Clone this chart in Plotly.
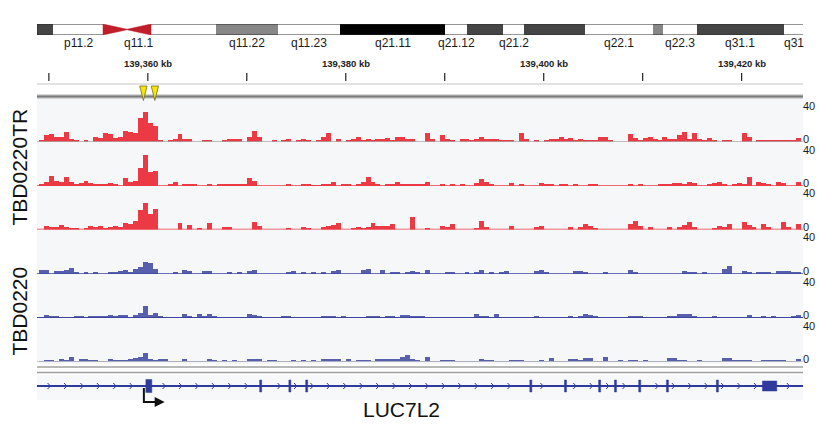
import plotly.graph_objects as go

# ---------------- data ----------------
view_kb = [139348.8, 139426.2]          # visible genomic window (kb)
bin_start_kb = 139349.0                  # first coverage bin start (kb)
bin_kb = 0.5                             # coverage bin width (kb)

track_labels = ["TBD0220TR", "TBD0220"]
track_max = 40                           # data range of each coverage track

tbd0220tr_rep1 = [
    2, 6, 7, 5, 5, 9, 3, 2, 0, 2,
    0, 5, 4, 8, 7, 4, 5, 10, 9, 8,
    22, 27, 17, 15, 1, 0, 2, 3, 7, 3,
    3, 0, 0, 1.5, 1.5, 0, 0, 2, 3, 3,
    3, 0, 5, 10, 5, 0, 0, 2, 0, 2,
    3, 0, 2, 3, 2, 0, 2, 5, 8, 0,
    3, 0, 2, 3, 5, 2, 3, 2, 3, 3,
    4, 2, 5, 5, 3, 3, 0, 0, 8, 3,
    0, 6, 3, 2, 0, 3, 3, 2, 3, 5,
    3, 3, 3, 1, 1, 1, 0, 8, 3, 0,
    1, 0, 2, 3, 3, 5, 3, 4, 2, 3,
    1, 2, 2, 5, 5, 1, 0, 0, 0, 7,
    4, 1, 4, 5, 3, 1, 5, 3, 3, 6,
    9, 3, 8, 3, 1, 4, 1, 0, 1, 1,
    0, 0, 8, 5, 0, 2, 1, 1, 2, 2,
    2, 2, 2, 4]
tbd0220tr_rep2 = [
    1.5, 4, 9, 5, 4, 8, 4, 2, 3, 5,
    3, 1, 1, 1, 3, 1.5, 0, 7, 4, 5,
    16, 28, 13, 14, 0, 0, 2, 4, 0, 1.5,
    2, 1, 0, 0, 1.5, 0, 1, 1, 2, 2,
    1, 1, 7, 5, 0, 0, 0, 0, 0, 0,
    1, 0, 0, 2, 1, 0.5, 0.5, 1.5, 1.5, 4,
    0, 2, 1, 0, 1.5, 4, 8, 4, 1, 0,
    2, 2, 4, 2, 1.5, 1.5, 2, 1.5, 4, 0,
    0, 1.5, 0, 1.5, 0, 1.5, 0, 0, 3, 6,
    4, 2, 0, 0, 0, 3, 0, 1, 0, 0,
    0, 3, 1.5, 1.5, 0, 2, 1.5, 0, 2, 0,
    0, 2, 2, 0, 0, 0, 0, 0, 0, 1,
    0, 1, 0, 0, 0, 1, 1, 1, 2.5, 2.5,
    2, 4, 2.5, 0, 0, 1, 2.5, 4, 2, 0,
    2, 2.5, 1.5, 8, 0, 4, 2.5, 2, 0, 4,
    2.5, 0, 0, 4]
tbd0220tr_rep3 = [
    0, 4, 2.5, 3, 5, 2.5, 1.5, 1.5, 0, 1.5,
    4, 3, 4, 2, 2.5, 4, 2.5, 6, 5.5, 8.5,
    18, 25, 15, 19, 0, 0, 0, 0, 6, 0,
    5, 0, 1.5, 0, 6, 0, 0, 3, 3, 0,
    0, 0, 0, 7, 4, 0, 0, 0, 0, 0,
    1.5, 0, 0, 2.5, 2, 0, 0, 2.5, 4, 5,
    6, 0, 0, 1.5, 3, 1.5, 2.5, 6, 4, 4,
    4, 5.5, 0, 0, 0, 12, 0, 0, 1.5, 0,
    0, 4, 2.5, 5.5, 0, 0, 0, 0, 1.5, 8,
    2.5, 0, 0, 0, 0, 4, 0, 0, 0, 0,
    3, 4, 0, 0, 0, 0, 0, 2.5, 0, 2.5,
    5.5, 4, 1, 0, 0, 0, 0, 0, 0, 5.5,
    8.5, 4, 0, 2.5, 0, 0, 0, 2.5, 0, 2.5,
    4.5, 7, 2.5, 0, 0, 0, 1, 4, 3, 5.5,
    0, 0, 7.5, 4.5, 2.5, 0, 5.5, 2.5, 0, 0,
    7.5, 3, 0, 5.5]
tbd0220_rep1 = [
    3.3, 3.3, 0, 2.5, 2.5, 4, 5.5, 1, 0, 1,
    0, 1, 0, 0, 1, 2, 2.5, 3.3, 1, 5,
    6, 11, 10, 5, 0, 0, 0, 1, 0, 4,
    2.5, 0, 0, 2.5, 2.5, 0, 0, 0, 1, 0,
    1, 0, 2.5, 3.3, 0, 0, 0, 0, 0, 0,
    1, 2.5, 0, 1, 0, 1, 0, 1, 0, 2.5,
    3.3, 0, 0, 0, 0, 3.3, 5, 0, 0, 3.3,
    0, 1, 1, 0, 2, 2.5, 2, 0, 3.3, 0,
    0, 0, 1, 1, 0, 0, 1, 0, 2, 3.3,
    0, 1, 0, 1, 2.5, 0, 0, 0, 0, 0,
    2.5, 3.3, 1, 0, 0, 0, 0, 0, 2.5, 2.5,
    1.5, 0, 0, 0, 1, 0, 0, 0, 0, 4,
    1.5, 0, 0, 0, 0, 0, 0, 0, 0, 0,
    3, 2, 2, 0, 1.5, 0, 0, 0, 4.5, 7.5,
    0, 0, 2.5, 1.5, 0, 1.5, 2, 1.5, 0, 2.5,
    3, 2.5, 1.5, 1.5]
tbd0220_rep2 = [
    0.5, 2.5, 2, 1, 0.5, 0.5, 0.5, 1, 1, 0.5,
    1, 1, 1, 2, 3, 2, 2.5, 3, 0.5, 2.5,
    5, 11, 2.5, 4.5, 1, 0.5, 0.5, 0.5, 0.5, 4,
    2, 0.5, 4, 2, 4, 1, 0.5, 0.5, 0.5, 0.5,
    0.5, 0.5, 4, 2.5, 1, 0.5, 0.5, 0.5, 0.5, 2,
    1, 0.5, 0.5, 0.5, 0.5, 0.5, 0.5, 1.5, 2, 1,
    0.5, 1.5, 0.5, 0.5, 0.5, 0.5, 1, 2, 1.5, 0.5,
    1.5, 1.5, 0.5, 2.5, 2.5, 2, 1.5, 1.5, 0.5, 0.5,
    0.5, 0.5, 0.5, 0.5, 0.5, 0.5, 0.5, 0.5, 3.5, 1.5,
    1.5, 0.5, 3.5, 0.5, 0.5, 0.5, 0.5, 0.5, 0.5, 0.5,
    1, 0.5, 0.5, 0.5, 0.5, 0.5, 0.5, 2, 0.5, 2,
    3.5, 2.5, 2, 0.5, 0.5, 0.5, 0.5, 0.5, 0.5, 2,
    1.5, 2, 0.5, 0.5, 0.5, 0.5, 0.5, 2, 2, 3.5,
    4, 3.5, 1.5, 0.5, 0.5, 0.5, 1.5, 0.5, 0.5, 0.5,
    0.5, 0.5, 0.5, 2.5, 0.5, 0.5, 1.5, 0.5, 1.5, 0.5,
    0.5, 0.5, 1.5, 2.5]
tbd0220_rep3 = [
    0.5, 1.5, 2, 0.5, 3, 1.5, 4.5, 0.5, 3, 3,
    1.5, 1.5, 0.5, 0.5, 3, 1.5, 1.5, 2, 3, 3.5,
    5, 8.5, 3, 2, 3, 3, 0.5, 0.5, 0.5, 2.5,
    0.5, 0.5, 0.5, 0.5, 2.5, 1.5, 0.5, 1.5, 0.5, 2,
    0.5, 0.5, 3, 3, 3, 0.5, 2, 1.5, 0.5, 0.5,
    0.5, 1.5, 0.5, 2, 0.5, 1.5, 0.5, 2.5, 3, 3,
    3, 0.5, 2.5, 0.5, 1.5, 1.5, 1.5, 0.5, 3, 3,
    3, 3, 3, 4.5, 6, 2.5, 1.5, 0.5, 4.5, 0.5,
    0.5, 2, 1.5, 1.5, 0.5, 0.5, 0.5, 0.5, 0.5, 3,
    2, 1.5, 0.5, 0.5, 0.5, 2, 1.5, 1.5, 0.5, 0.5,
    0.5, 2, 0.5, 3.5, 0.5, 0.5, 0.5, 2.5, 2.5, 2,
    4, 4, 0.5, 0.5, 5, 0.5, 0.5, 1, 0.5, 2,
    2, 0.5, 2, 0.5, 0.5, 0.5, 0.5, 3.5, 3.5, 2,
    2, 0.5, 0.5, 1, 0.5, 0.5, 0.5, 0.5, 4, 4,
    2, 2, 1.5, 1.5, 0.5, 0.5, 2, 2, 2, 2,
    1, 0.5, 0.5, 2.5]

ruler_ticks_kb = [139350, 139360, 139370, 139380, 139390, 139400, 139410, 139420]
ruler_label_kb = [139360, 139380, 139400, 139420]
ruler_labels = ["139,360 kb", "139,380 kb", "139,400 kb", "139,420 kb"]

marker_kb = [139359.55, 139360.71]       # yellow region markers

# ideogram (positions in % of the displayed ideogram width)
band_starts = [0, 2.09, 8.62, 11.75, 14.88, 23.37, 31.46, 39.56, 53.26,
               56.14, 60.84, 63.58, 71.54, 80.42, 81.72, 86.16, 97.52]
band_ends = band_starts[1:] + [100]
band_stains = ["gpos75", "gneg", "acen_p", "acen_q", "gneg", "gpos50", "gneg",
               "gpos100", "gneg", "gpos75", "gneg", "gpos75", "gneg", "gpos50",
               "gneg", "gpos75", "gneg"]
band_labels = ["", "p11.2", "", "q11.1", "", "q11.22", "q11.23", "q21.11",
               "q21.12", "", "q21.2", "", "q22.1", "", "q22.3", "q31.1", "q31"]

# gene LUC7L2 (kb)
gene_name = "LUC7L2"
gene_span_kb = [139340.0, 139430.0]
exon_starts_kb = [139359.8, 139371.3, 139374.25, 139375.95, 139398.6, 139402.1,
                  139405.55, 139407.15, 139409.6, 139412.4, 139417.45, 139422.1]
exon_ends_kb = [139360.4, 139371.5, 139374.45, 139376.15, 139398.8, 139402.3,
                139405.75, 139407.35, 139409.8, 139412.6, 139417.65, 139423.55]
exon_half_h = [0.65, 0.6, 0.6, 0.6, 0.6, 0.6, 0.6, 0.6, 0.6, 0.6, 0.6, 0.5]
tss_kb = 139359.6

# ---------------- styling / layout helpers ----------------
W, H = 820, 429
PX_L, PX_R = 37, 803
def px(v): return v / W
def py(v): return 1 - v / H

FONT = "Arial, Liberation Sans, sans-serif"
RED, BLUE = "#ec3a44", "#5860ae"
GENE_BLUE = "#2f3a9c"

track_values = [tbd0220tr_rep1, tbd0220tr_rep2, tbd0220tr_rep3,
                tbd0220_rep1, tbd0220_rep2, tbd0220_rep3]
track_colors = [RED, RED, RED, BLUE, BLUE, BLUE]
baseline_colors = ["#a8a8a8", RED, RED, "#3c44a2", "#3c44a2", "#c8c8cc"]
baseline_widths = [1.5, 1.5, 1.5, 1.5, 2, 1.5]
track_base_px = [142, 186, 229.5, 274, 318, 362]
TRACK_H = 44

xdom = [px(PX_L), px(PX_R)]
fig = go.Figure()
layout = dict(
    width=W, height=H, margin=dict(l=0, r=0, t=0, b=0),
    paper_bgcolor="white", plot_bgcolor="rgba(0,0,0,0)",
    showlegend=False, barmode="overlay", bargap=0,
    font=dict(family=FONT, color="#111"),
    xaxis=dict(domain=xdom, range=view_kb, visible=False, fixedrange=True),
)
shapes, annotations = [], []

# backgrounds
shapes.append(dict(type="rect", xref="paper", yref="paper", x0=xdom[0], x1=xdom[1],
                   y0=py(364), y1=py(98), fillcolor="#f6f7f9", line_width=0, layer="below"))
shapes.append(dict(type="rect", xref="paper", yref="paper", x0=xdom[0], x1=xdom[1],
                   y0=py(400), y1=py(375), fillcolor="#f7f8fa", line_width=0, layer="below"))

centers = [bin_start_kb + bin_kb * (i + 0.5) for i in range(len(tbd0220tr_rep1))]
for k, vals in enumerate(track_values):
    yname = "yaxis" if k == 0 else f"yaxis{k+1}"
    yref = "y" if k == 0 else f"y{k+1}"
    b = track_base_px[k]
    layout[yname] = dict(domain=[py(b), py(b - TRACK_H)], range=[0, track_max],
                         visible=False, anchor="x", fixedrange=True)
    fig.add_trace(go.Bar(x=centers, y=vals, width=bin_kb, xaxis="x", yaxis=yref,
                         marker=dict(color=track_colors[k], line=dict(width=0)),
                         hoverinfo="skip"))
    shapes.append(dict(type="line", xref="paper", yref=yref, x0=xdom[0], x1=xdom[1],
                       y0=0, y1=0, line=dict(color=baseline_colors[k], width=baseline_widths[k])))
    annotations.append(dict(text=str(track_max), x=px(801), y=py(b - 36.5), xref="paper", yref="paper",
                            xanchor="left", yanchor="middle", showarrow=False,
                            font=dict(size=11, color="#1a1a1a", family=FONT)))
    annotations.append(dict(text="0", x=px(801), y=py(b - 3), xref="paper", yref="paper",
                            xanchor="left", yanchor="middle", showarrow=False,
                            font=dict(size=11, color="#1a1a1a", family=FONT)))

# ---------------- ideogram ----------------
layout["xaxis2"] = dict(domain=xdom, range=[0, 100], visible=False, anchor="y7", fixedrange=True)
layout["yaxis7"] = dict(domain=[py(35), py(24)], range=[0, 1], visible=False, anchor="x2", fixedrange=True)
stain_color = {"gneg": "#ffffff", "gpos50": "#878787", "gpos75": "#454545",
               "gpos100": "#000000", "acen_p": "rgba(0,0,0,0)", "acen_q": "rgba(0,0,0,0)"}
fig.add_trace(go.Bar(
    base=band_starts, x=[e - s for s, e in zip(band_starts, band_ends)],
    y=[0.5] * len(band_starts), width=1.0, orientation="h",
    marker=dict(color=[stain_color[s] for s in band_stains], line=dict(width=0)),
    xaxis="x2", yaxis="y7", hoverinfo="skip"))
ACEN = "#bf1e2a"
for s, e, st in zip(band_starts, band_ends, band_stains):
    if st == "acen_p":
        shapes.append(dict(type="path", xref="x2", yref="y7",
                           path=f"M {s},0 L {s},1 L {e},0.52 L {e},0.48 Z",
                           fillcolor=ACEN, line=dict(color=ACEN, width=0.5)))
    elif st == "acen_q":
        shapes.append(dict(type="path", xref="x2", yref="y7",
                           path=f"M {e},0 L {e},1 L {s},0.52 L {s},0.48 Z",
                           fillcolor=ACEN, line=dict(color=ACEN, width=0.5)))
acen_lo = min(s for s, st in zip(band_starts, band_stains) if st.startswith("acen"))
acen_hi = max(e for e, st in zip(band_ends, band_stains) if st.startswith("acen"))
for (a, b_) in [(band_starts[0], acen_lo), (acen_hi, band_ends[-1])]:
    for yy in (0, 1):
        shapes.append(dict(type="line", xref="x2", yref="y7", x0=a, x1=b_, y0=yy, y1=yy,
                           line=dict(color="#2a2a2a", width=1)))
shapes.append(dict(type="line", xref="x2", yref="y7", x0=band_starts[0], x1=band_starts[0],
                   y0=0, y1=1, line=dict(color="#2a2a2a", width=1)))
for s, e, lab in zip(band_starts, band_ends, band_labels):
    if lab:
        annotations.append(dict(text=lab, x=(s + e) / 2, y=py(43.5), xref="x2", yref="paper",
                                xanchor="center", yanchor="middle", showarrow=False,
                                font=dict(size=12, color="#1a1a1a", family=FONT)))

# ---------------- ruler ----------------
for t in ruler_ticks_kb:
    shapes.append(dict(type="line", xref="x", yref="paper", x0=t, x1=t, y0=py(81), y1=py(73),
                       line=dict(color="#222", width=1.2)))
for t, lab in zip(ruler_label_kb, ruler_labels):
    annotations.append(dict(text=f"<b>{lab}</b>", x=t, y=py(63.5), xref="x", yref="paper",
                            xanchor="center", yanchor="middle", showarrow=False,
                            font=dict(size=9.5, color="#222", family=FONT)))
shapes.append(dict(type="line", xref="paper", yref="paper", x0=xdom[0], x1=xdom[1],
                   y0=py(84), y1=py(84), line=dict(color="#c4c4c4", width=1)))
shapes.append(dict(type="rect", xref="paper", yref="paper", x0=xdom[0], x1=xdom[1],
                   y0=py(98.5), y1=py(94.5), fillcolor="#b0b0b0", line_width=0))
shapes.append(dict(type="line", xref="paper", yref="paper", x0=xdom[0], x1=xdom[1],
                   y0=py(96.5), y1=py(96.5), line=dict(color="#7a7a7a", width=1.5)))
for m in marker_kb:
    shapes.append(dict(type="path", xref="x", yref="paper",
                       path=f"M {m-0.37},{py(86)} L {m+0.37},{py(86)} L {m},{py(100.5)} Z",
                       fillcolor="#f6e800", line=dict(color="#6d6a2a", width=0.8)))

# separator lines under the coverage tracks
for yy in (367, 372.5):
    shapes.append(dict(type="line", xref="paper", yref="paper", x0=xdom[0], x1=xdom[1],
                       y0=py(yy), y1=py(yy), line=dict(color="#a0a0a0", width=1.3)))

# ---------------- gene track ----------------
layout["yaxis8"] = dict(domain=[py(398), py(374)], range=[-1.2, 1.2], visible=False,
                        anchor="x", fixedrange=True)
fig.add_trace(go.Scatter(x=gene_span_kb, y=[0, 0], mode="lines", xaxis="x", yaxis="y8",
                         line=dict(color=GENE_BLUE, width=1.8), hoverinfo="skip"))
# strand chevrons
chev_step = 1.66
cx, cy = [], []
c = view_kb[0] + 1.35
while c < view_kb[1] - 0.3:
    if all(not (s - 0.55 < c < e + 0.55) for s, e in zip(exon_starts_kb, exon_ends_kb)):
        cx += [c - 0.28, c, c - 0.28, None]
        cy += [0.3, 0, -0.3, None]
    c += chev_step
fig.add_trace(go.Scatter(x=cx, y=cy, mode="lines", xaxis="x", yaxis="y8",
                         line=dict(color=GENE_BLUE, width=1), hoverinfo="skip"))
for s, e, hh in zip(exon_starts_kb, exon_ends_kb, exon_half_h):
    shapes.append(dict(type="rect", xref="x", yref="y8", x0=s, x1=e, y0=-hh, y1=hh,
                       fillcolor=GENE_BLUE, line=dict(color=GENE_BLUE, width=0.5)))
# TSS bent arrow
shapes.append(dict(type="path", xref="x", yref="paper",
                   path=f"M {tss_kb},{py(388)} L {tss_kb},{py(402)} L {tss_kb+1.4},{py(402)}",
                   line=dict(color="#111", width=2)))
annotations.append(dict(text="", x=tss_kb + 2.1, y=py(402), xref="x", yref="paper",
                        ax=-9, ay=0, showarrow=True, arrowhead=2, arrowsize=1,
                        arrowwidth=2, arrowcolor="#111"))
annotations.append(dict(text=gene_name, x=px(401), y=py(409.5), xref="paper", yref="paper",
                        xanchor="center", yanchor="middle", showarrow=False,
                        font=dict(size=21, color="#111", family=FONT)))

# ---------------- group labels ----------------
annotations.append(dict(text=track_labels[0], x=px(18.5), y=py(167), xref="paper", yref="paper",
                        textangle=-90, xanchor="center", yanchor="middle", showarrow=False,
                        font=dict(size=21, color="#111", family=FONT)))
annotations.append(dict(text=track_labels[1], x=px(18.5), y=py(311), xref="paper", yref="paper",
                        textangle=-90, xanchor="center", yanchor="middle", showarrow=False,
                        font=dict(size=21, color="#111", family=FONT)))

layout["shapes"] = shapes
layout["annotations"] = annotations
fig.update_layout(**layout)
fig.write_html("out.html", config={"displayModeBar": False},
               post_script="document.body.style.margin='0';document.body.style.padding='0';")
